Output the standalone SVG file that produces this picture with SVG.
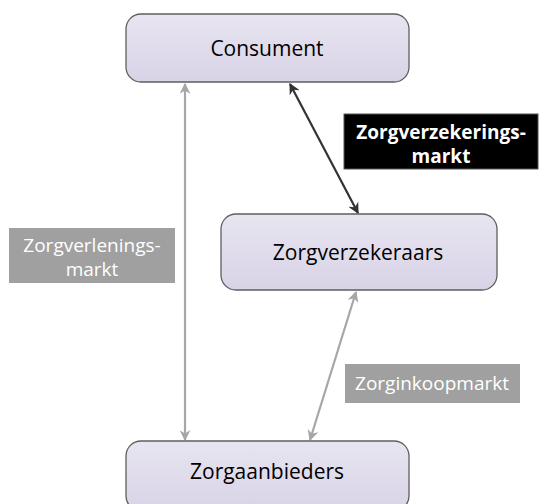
<svg xmlns="http://www.w3.org/2000/svg" width="539" height="504" viewBox="0 0 539 504">
<defs>
<linearGradient id="g" x1="0" y1="0" x2="0" y2="1">
<stop offset="0" stop-color="#e8e5f1"/>
<stop offset="1" stop-color="#d8d3e6"/>
</linearGradient>
<marker id="ag" viewBox="0 0 10 10" refX="9" refY="5" markerWidth="5" markerHeight="5" orient="auto-start-reverse" markerUnits="strokeWidth">
<path d="M0,0 L10,5 L0,10 L3,5 z" fill="#a6a6a6"/>
</marker>
<marker id="ad" viewBox="0 0 10 10" refX="9" refY="5" markerWidth="5" markerHeight="5" orient="auto-start-reverse" markerUnits="strokeWidth">
<path d="M0,0 L10,5 L0,10 L3,5 z" fill="#333"/>
</marker>
</defs>
<style>
.box{fill:url(#g);stroke:#5f5f5f;stroke-width:1.3}
.t{font-family:"Open Sans","Liberation Sans",sans-serif;font-size:21px;fill:#000;text-anchor:middle}
.lt{font-family:"Open Sans","Liberation Sans",sans-serif;font-size:19px;fill:#fff;text-anchor:middle}
.b{font-weight:bold}
</style>
<g id="connectors">
<line x1="185" y1="84" x2="185" y2="440" stroke="#a6a6a6" stroke-width="2.2" marker-start="url(#ag)" marker-end="url(#ag)"/>
<line x1="290" y1="84" x2="358" y2="213" stroke="#333" stroke-width="2.2" marker-start="url(#ad)" marker-end="url(#ad)"/>
<line x1="356" y1="292" x2="310" y2="440" stroke="#a6a6a6" stroke-width="2.2" marker-start="url(#ag)" marker-end="url(#ag)"/>
</g>
<g id="consument">
<rect class="box" x="126" y="14" width="283" height="68" rx="15"/>
<text class="t" x="267" y="56">Consument</text>
</g>
<g id="zorgverzekeraars">
<rect class="box" x="221" y="214" width="276" height="76" rx="15"/>
<text class="t" x="358" y="260">Zorgverzekeraars</text>
</g>
<g id="zorgaanbieders">
<rect class="box" x="126" y="441" width="283" height="70" rx="15"/>
<text class="t" x="267" y="479">Zorgaanbieders</text>
</g>
<g id="label-zorgverzekeringsmarkt">
<rect x="344" y="114" width="194" height="55" fill="#000" stroke="#555" stroke-width="1"/>
<text class="lt b" x="441" y="139">Zorgverzekerings-</text>
<text class="lt b" x="441" y="163">markt</text>
</g>
<g id="label-zorgverleningsmarkt">
<rect x="9" y="228" width="166" height="55" fill="#a0a0a0"/>
<text class="lt" x="92" y="252">Zorgverlenings-</text>
<text class="lt" x="92" y="276">markt</text>
</g>
<g id="label-zorginkoopmarkt">
<rect x="345" y="364" width="175" height="39" fill="#a0a0a0"/>
<text class="lt" x="432" y="390">Zorginkoopmarkt</text>
</g>
</svg>
